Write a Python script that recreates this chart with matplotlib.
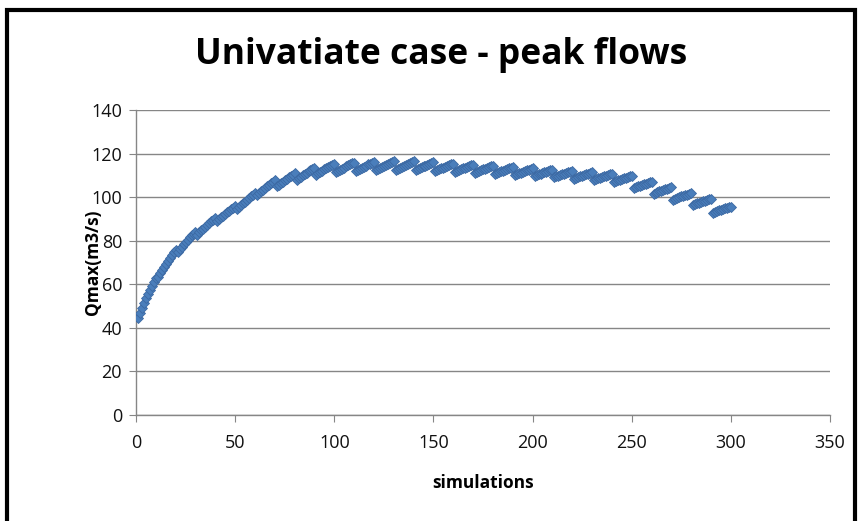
import numpy as np
import matplotlib
matplotlib.use("Agg")
import matplotlib.pyplot as plt
from matplotlib.patches import Rectangle

plt.rcParams['font.family'] = ['Open Sans', 'DejaVu Sans']

# peak flow per simulation (30 runs of 10 simulations)
qmax_runs = [
    [44.5, 47.0, 49.3, 51.5, 53.6, 55.6, 57.5, 59.4, 61.2, 62.9],
    [63.5, 65.0, 66.5, 68.0, 69.4, 70.8, 72.1, 73.4, 74.6, 75.8],
    [75.0, 76.2, 77.3, 78.4, 79.5, 80.5, 81.5, 82.4, 83.3, 84.2],
    [82.8, 83.8, 84.7, 85.6, 86.5, 87.3, 88.1, 88.9, 89.6, 90.3],
    [89.0, 89.9, 90.7, 91.5, 92.3, 93.1, 93.8, 94.5, 95.2, 95.9],
    [94.6, 95.5, 96.4, 97.2, 98.0, 98.8, 99.6, 100.3, 101.0, 101.7],
    [100.8, 101.7, 102.6, 103.4, 104.2, 105.0, 105.7, 106.4, 107.1, 107.8],
    [104.9, 105.7, 106.4, 107.1, 107.8, 108.5, 109.1, 109.7, 110.3, 110.9],
    [108.0, 108.7, 109.4, 110.0, 110.6, 111.2, 111.8, 112.4, 112.9, 113.4],
    [110.2, 110.9, 111.5, 112.1, 112.7, 113.3, 113.8, 114.3, 114.8, 115.3],
    [111.4, 112.0, 112.6, 113.1, 113.6, 114.1, 114.6, 115.1, 115.5, 115.9],
    [112.0, 112.5, 113.0, 113.5, 114.0, 114.5, 115.0, 115.4, 115.8, 116.2],
    [112.4, 112.9, 113.4, 113.9, 114.4, 114.8, 115.2, 115.6, 116.0, 116.4],
    [112.5, 113.0, 113.5, 114.0, 114.4, 114.8, 115.2, 115.6, 116.0, 116.4],
    [112.3, 112.8, 113.3, 113.7, 114.1, 114.5, 114.9, 115.3, 115.7, 116.0],
    [112.0, 112.4, 112.8, 113.2, 113.6, 114.0, 114.4, 114.8, 115.1, 115.4],
    [111.6, 112.0, 112.4, 112.8, 113.2, 113.6, 114.0, 114.3, 114.6, 114.9],
    [111.1, 111.5, 111.9, 112.3, 112.7, 113.1, 113.5, 113.8, 114.1, 114.4],
    [110.6, 111.0, 111.4, 111.8, 112.2, 112.6, 112.9, 113.2, 113.5, 113.8],
    [110.1, 110.5, 110.9, 111.3, 111.7, 112.0, 112.3, 112.6, 112.9, 113.2],
    [109.6, 110.0, 110.4, 110.8, 111.1, 111.4, 111.7, 112.0, 112.3, 112.6],
    [109.1, 109.5, 109.9, 110.2, 110.5, 110.8, 111.1, 111.4, 111.7, 112.0],
    [108.5, 108.9, 109.3, 109.6, 109.9, 110.2, 110.5, 110.8, 111.1, 111.4],
    [107.8, 108.2, 108.6, 108.9, 109.2, 109.5, 109.8, 110.1, 110.4, 110.7],
    [106.9, 107.3, 107.7, 108.0, 108.3, 108.6, 108.9, 109.2, 109.5, 109.8],
    [104.2, 104.6, 105.0, 105.3, 105.6, 105.9, 106.2, 106.5, 106.8, 107.1],
    [101.6, 102.0, 102.4, 102.7, 103.0, 103.3, 103.6, 103.9, 104.2, 104.5],
    [98.9, 99.3, 99.7, 100.0, 100.3, 100.6, 100.9, 101.2, 101.5, 101.8],
    [96.4, 96.8, 97.2, 97.5, 97.8, 98.1, 98.4, 98.7, 99.0, 99.3],
    [92.8, 93.2, 93.6, 93.9, 94.2, 94.5, 94.8, 95.1, 95.4, 95.7],
]
qmax = np.concatenate(qmax_runs)
simulations = np.arange(1, len(qmax) + 1)

x_ticks = [0, 50, 100, 150, 200, 250, 300, 350]
y_ticks = [0, 20, 40, 60, 80, 100, 120, 140]

fig = plt.figure(figsize=(8.6, 5.21), dpi=100)
ax = fig.add_axes([136 / 860, 1 - 415 / 521, 694 / 860, 305 / 521])

ax.plot(simulations, qmax, linestyle='none', marker='D', markersize=5.5,
        markerfacecolor='#4A7EBB', markeredgecolor='#3C69A3', markeredgewidth=0.6,
        zorder=3)

ax.set_xlim(0, 350)
ax.set_ylim(0, 140)
ax.set_xticks(x_ticks)
ax.set_yticks(y_ticks)
ax.grid(True, axis='y', color='#868686', linewidth=1)
ax.set_axisbelow(True)

for side in ['top', 'right']:
    ax.spines[side].set_visible(False)
for side in ['left', 'bottom']:
    ax.spines[side].set_color('#868686')
    ax.spines[side].set_linewidth(1)
ax.tick_params(axis='both', colors='#868686', labelcolor='#111111', length=5,
               labelsize=13)
ax.tick_params(axis='x', pad=9)
ax.tick_params(axis='y', pad=5)

ax.set_xlabel('simulations', fontsize=12.5, fontweight='bold', va='center')
ax.set_ylabel('Qmax(m3/s)', fontsize=12.5, fontweight='bold', va='center')
ax.xaxis.set_label_coords(0.5, (415 - 483) / 305)
ax.yaxis.set_label_coords((93 - 136) / 694, 0.5)
fig.text(441 / 860, 1 - 55 / 521, 'Univatiate case - peak flows', ha='center',
         va='center', fontsize=25.5, fontweight='bold')

# chart frame (cut off at the bottom)
fig.patches.append(Rectangle((7 / 860, -0.05), 848 / 860, 1 - 10 / 521 + 0.05,
                             transform=fig.transFigure, fill=False,
                             edgecolor='black', linewidth=3))

fig.savefig('out.png', dpi=100)
